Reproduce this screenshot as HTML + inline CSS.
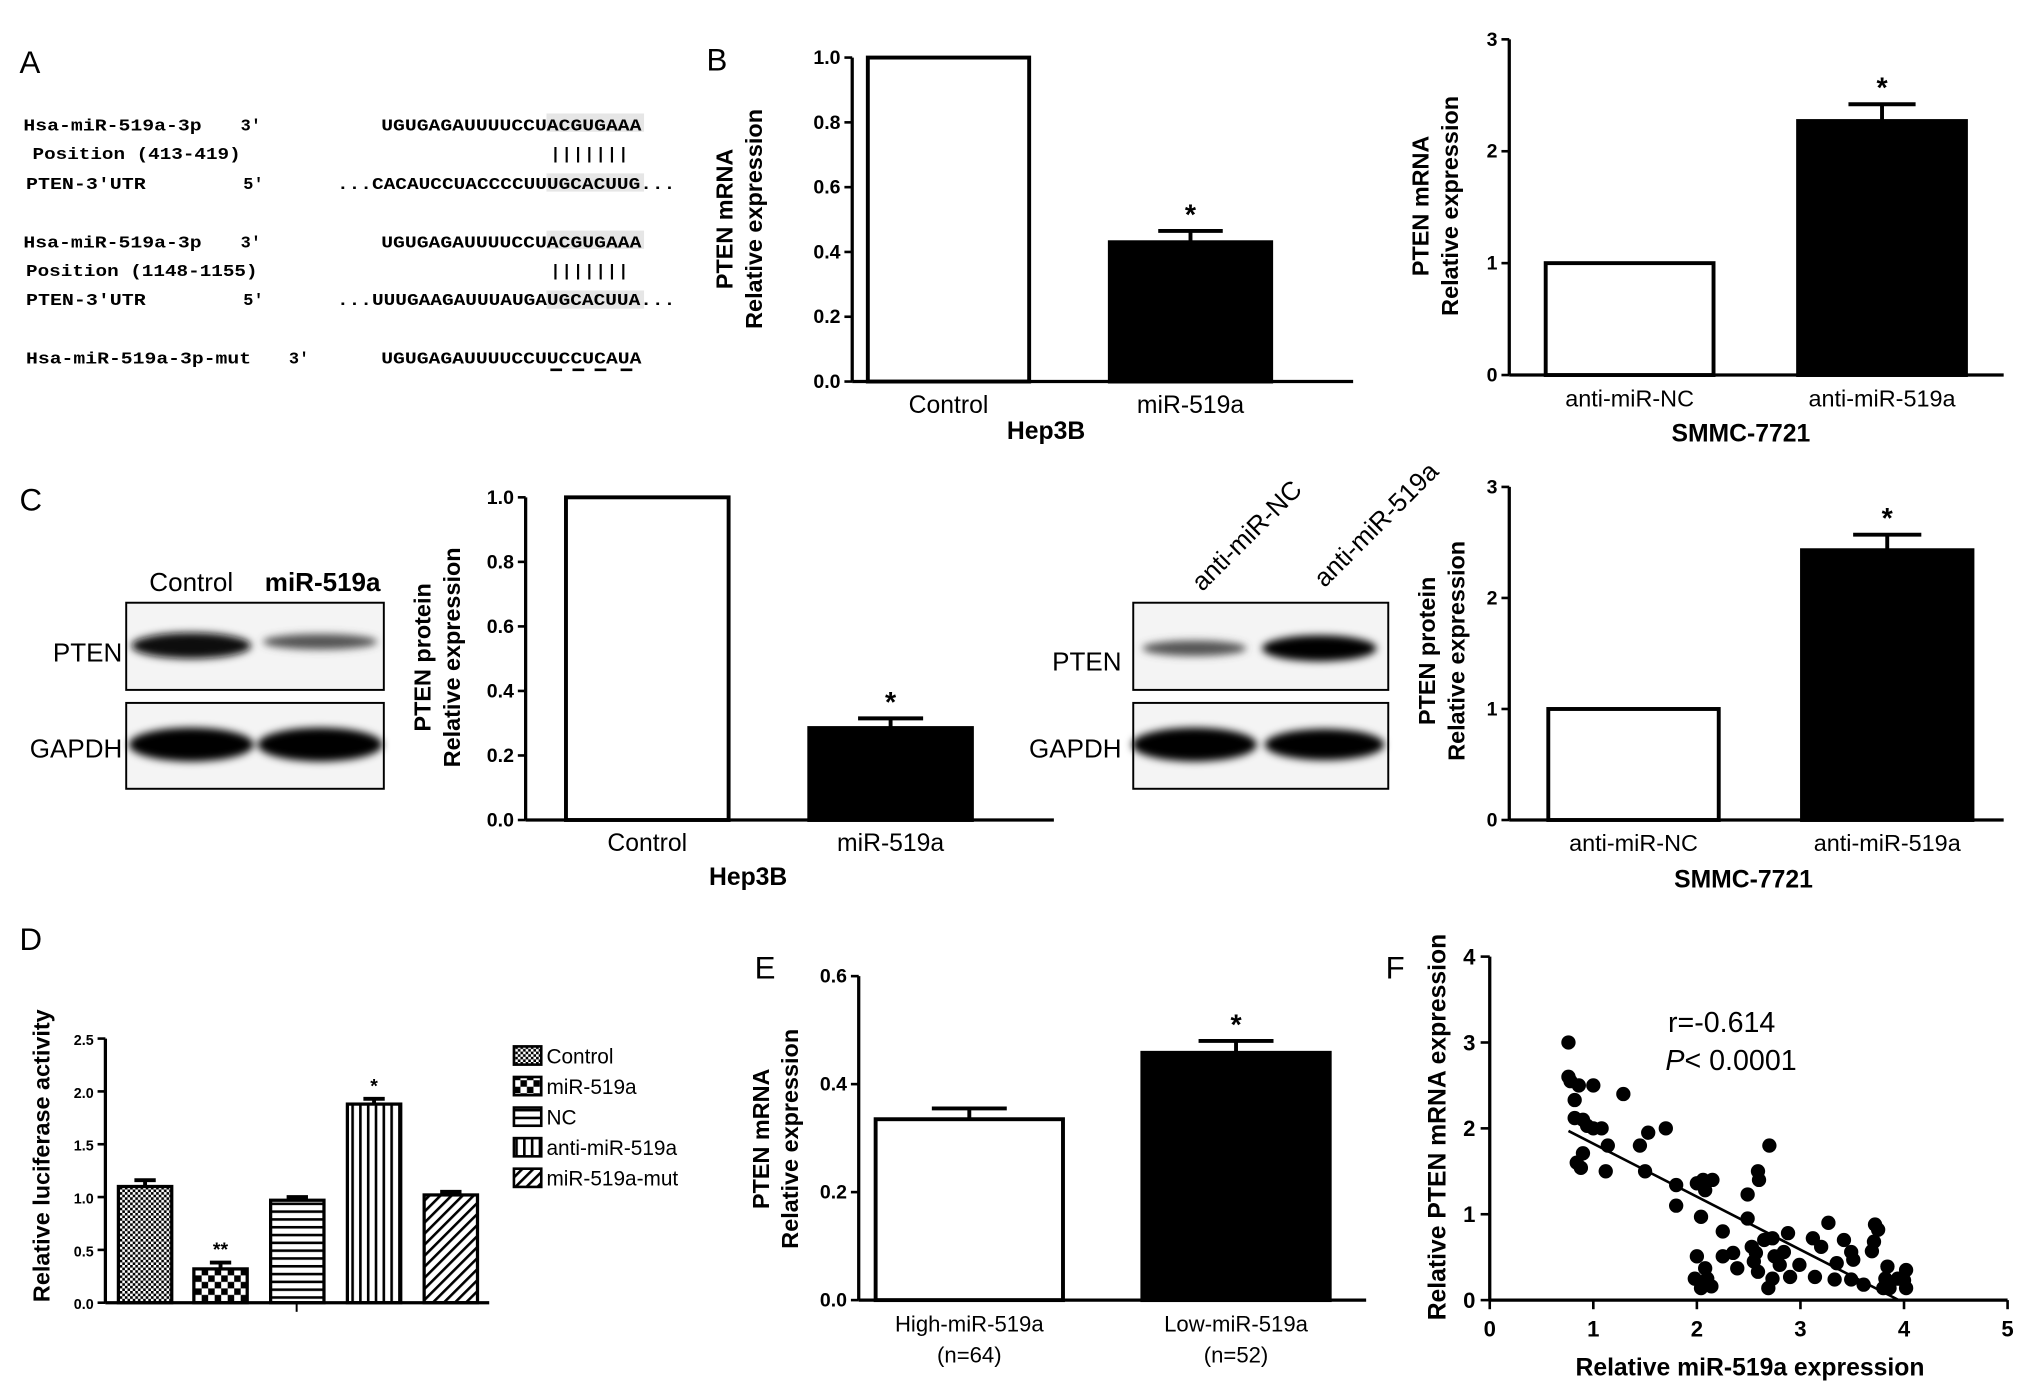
<!DOCTYPE html>
<html><head><meta charset="utf-8">
<style>
html,body{margin:0;padding:0;background:#fff;}
svg{display:block;font-family:"Liberation Sans",Arial,sans-serif;}
.mono{font-family:"Liberation Mono",monospace;font-weight:bold;font-size:13px;}
</style></head>
<body>
<svg id="fig" width="2031" height="1385" viewBox="0 0 1561 1064" xmlns="http://www.w3.org/2000/svg">
<defs>
<filter id="blur"><feGaussianBlur stdDeviation="3"/></filter>
<pattern id="pCtrl" width="4" height="4" patternUnits="userSpaceOnUse"><rect width="4" height="4" fill="#fff"/><rect width="2" height="2" fill="#000"/><rect x="2" y="2" width="2" height="2" fill="#000"/></pattern>
<pattern id="pMir" width="10" height="10" patternUnits="userSpaceOnUse"><rect width="10" height="10" fill="#fff"/><rect width="5" height="5" fill="#000"/><rect x="5" y="5" width="5" height="5" fill="#000"/></pattern>
<pattern id="pNC" width="6" height="6" patternUnits="userSpaceOnUse"><rect width="6" height="6" fill="#fff"/><rect width="6" height="2" fill="#000"/></pattern>
<pattern id="pAnti" width="6" height="6" patternUnits="userSpaceOnUse"><rect width="6" height="6" fill="#fff"/><rect width="2" height="6" fill="#000"/></pattern>
<pattern id="pMut" width="6" height="6" patternUnits="userSpaceOnUse" patternTransform="rotate(45)"><rect width="6" height="6" fill="#fff"/><rect width="2" height="6" fill="#000"/></pattern>
</defs>

<text x="15" y="56" font-size="24">A</text>
<text x="543" y="54" font-size="24">B</text>
<text x="15" y="392" font-size="24">C</text>
<text x="15" y="730" font-size="24">D</text>
<text x="580" y="752" font-size="24">E</text>
<text x="1065" y="752" font-size="24">F</text>

<g class="mono">
<rect x="420" y="87" width="75" height="14" fill="#e6e6e6"/>
<rect x="420" y="133" width="75" height="14" fill="#e6e6e6"/>
<rect x="420" y="177" width="75" height="14" fill="#e6e6e6"/>
<rect x="420" y="223" width="75" height="14" fill="#e6e6e6"/>
<text x="18" y="100" textLength="137" lengthAdjust="spacingAndGlyphs">Hsa-miR-519a-3p</text><text x="185" y="100">3'</text>
<text x="25" y="122" textLength="160" lengthAdjust="spacingAndGlyphs">Position (413-419)</text>
<text x="20" y="145" textLength="92" lengthAdjust="spacingAndGlyphs">PTEN-3'UTR</text><text x="187" y="145">5'</text>
<text x="293" y="100" textLength="200" lengthAdjust="spacingAndGlyphs">UGUGAGAUUUUCCUACGUGAAA</text>
<text x="423" y="122" textLength="60" lengthAdjust="spacing">|||||||</text>
<text x="259" y="145" textLength="260" lengthAdjust="spacingAndGlyphs">...CACAUCCUACCCCUUUGCACUUG...</text>
<text x="18" y="190" textLength="137" lengthAdjust="spacingAndGlyphs">Hsa-miR-519a-3p</text><text x="185" y="190">3'</text>
<text x="20" y="212" textLength="178" lengthAdjust="spacingAndGlyphs">Position (1148-1155)</text>
<text x="20" y="234" textLength="92" lengthAdjust="spacingAndGlyphs">PTEN-3'UTR</text><text x="187" y="234">5'</text>
<text x="293" y="190" textLength="200" lengthAdjust="spacingAndGlyphs">UGUGAGAUUUUCCUACGUGAAA</text>
<text x="423" y="212" textLength="60" lengthAdjust="spacing">|||||||</text>
<text x="259" y="234" textLength="260" lengthAdjust="spacingAndGlyphs">...UUUGAAGAUUUAUGAUGCACUUA...</text>
<text x="20" y="279" textLength="173" lengthAdjust="spacingAndGlyphs">Hsa-miR-519a-3p-mut</text><text x="222" y="279">3'</text>
<text x="293" y="279" textLength="200" lengthAdjust="spacingAndGlyphs">UGUGAGAUUUUCCUUCCUCAUA</text>
<path d="M423 284h9M440 284h9M457 284h9M477 284h9" stroke="#000" stroke-width="2"/>
</g>

<g>
<text x="147" y="454" font-size="20" text-anchor="middle">Control</text>
<text x="248" y="454" font-size="20" font-weight="bold" text-anchor="middle">miR-519a</text>
<text x="94" y="508" font-size="20" text-anchor="end">PTEN</text>
<text x="94" y="582" font-size="20" text-anchor="end">GAPDH</text>
<rect x="97" y="463" width="198" height="67" fill="#f4f4f4" stroke="#000" stroke-width="1.5"/>
<rect x="97" y="540" width="198" height="66" fill="#f4f4f4" stroke="#000" stroke-width="1.5"/>
<g filter="url(#blur)">
<ellipse cx="147" cy="496" rx="46" ry="10" fill="#111"/>
<ellipse cx="246" cy="493" rx="44" ry="6" fill="#555"/>
<ellipse cx="147" cy="572" rx="48" ry="13" fill="#000"/>
<ellipse cx="246" cy="572" rx="48" ry="13" fill="#000"/>
</g>
</g>
<g>
<text x="924" y="455" font-size="20" transform="rotate(-45 924 455)">anti-miR-NC</text>
<text x="1018" y="452" font-size="20" transform="rotate(-45 1018 452)">anti-miR-519a</text>
<text x="862" y="515" font-size="20" text-anchor="end">PTEN</text>
<text x="862" y="582" font-size="20" text-anchor="end">GAPDH</text>
<rect x="871" y="463" width="196" height="67" fill="#f4f4f4" stroke="#000" stroke-width="1.5"/>
<rect x="871" y="540" width="196" height="66" fill="#f4f4f4" stroke="#000" stroke-width="1.5"/>
<g filter="url(#blur)">
<ellipse cx="918" cy="498" rx="40" ry="6" fill="#555"/>
<ellipse cx="1014" cy="498" rx="44" ry="10" fill="#000"/>
<ellipse cx="918" cy="572" rx="48" ry="13" fill="#000"/>
<ellipse cx="1018" cy="572" rx="46" ry="12" fill="#000"/>
</g>
</g>

<g id="charts"></g>
</svg>
<script>
const bLeftCats = ["Control","miR-519a"];
const bLeftVals = [1.0, 0.43];
const bLeftErr = [0, 0.035];
const bLeftTicks = ["0.0","0.2","0.4","0.6","0.8","1.0"];
const bRightCats = ["anti-miR-NC","anti-miR-519a"];
const bRightVals = [1.0, 2.27];
const bRightErr = [0, 0.15];
const bRightTicks = ["0","1","2","3"];
const cLeftCats = ["Control","miR-519a"];
const cLeftVals = [1.0, 0.285];
const cLeftErr = [0, 0.03];
const cRightCats = ["anti-miR-NC","anti-miR-519a"];
const cRightVals = [1.0, 2.43];
const cRightErr = [0, 0.14];
const dCats = ["Control","miR-519a","NC","anti-miR-519a","miR-519a-mut"];
const dVals = [1.1, 0.32, 0.97, 1.88, 1.02];
const dErr = [0.06, 0.06, 0.03, 0.05, 0.03];
const dTicks = ["0.0","0.5","1.0","1.5","2.0","2.5"];
const dSig = ["","**","","*",""];
const eCats = ["High-miR-519a","Low-miR-519a"];
const eN = ["(n=64)","(n=52)"];
const eVals = [0.335, 0.458];
const eErr = [0.02, 0.022];
const eTicks = ["0.0","0.2","0.4","0.6"];
const fX = [0.76,0.76,0.78,0.86,1.0,1.29,0.82,0.82,0.9,0.94,1.0,1.08,1.53,1.7,1.45,1.14,2.7,0.9,0.84,0.88,1.12,1.5,1.8,1.8,2.0,2.06,2.15,2.08,2.59,2.6,2.49,2.49,2.04,2.25,3.27,2.88,3.12,3.2,3.42,3.49,3.51,3.72,3.75,3.71,3.69,2.0,2.25,2.35,2.39,2.53,2.57,2.55,2.59,2.65,2.73,2.75,2.84,2.8,2.99,2.9,2.73,2.69,3.14,3.35,3.33,3.49,3.61,1.98,2.08,2.1,2.14,2.04,3.84,3.82,3.86,3.94,4.02,4.0,4.02,3.8];
const fY = [3.0,2.6,2.55,2.5,2.5,2.4,2.33,2.12,2.1,2.03,2.0,2.0,1.95,2.0,1.8,1.8,1.8,1.71,1.6,1.54,1.5,1.5,1.34,1.1,1.36,1.4,1.4,1.28,1.5,1.4,1.23,0.95,0.97,0.8,0.9,0.78,0.72,0.62,0.7,0.56,0.47,0.88,0.82,0.68,0.57,0.51,0.51,0.55,0.37,0.62,0.55,0.45,0.33,0.7,0.72,0.51,0.56,0.41,0.41,0.27,0.25,0.14,0.27,0.43,0.24,0.24,0.18,0.25,0.37,0.25,0.16,0.14,0.39,0.25,0.14,0.25,0.35,0.23,0.14,0.14];
const fFit = [[0.76,1.97],[3.95,0]];
const fXTicks = ["0","1","2","3","4","5"];
const fYTicks = ["0","1","2","3","4"];

const NS="http://www.w3.org/2000/svg";
const root=document.getElementById('charts');
function mk(tag,attrs,parent,txt){const e=document.createElementNS(NS,tag);for(const k in attrs)e.setAttribute(k,attrs[k]);if(txt!==undefined)e.textContent=txt;(parent||root).appendChild(e);return e;}

function barChart(o){
  const g=mk('g',{});
  
  
  const ymax=o.ymax;
  const Y=v=>o.yb-(v/ymax)*(o.yb-o.yt);
  o.vals.forEach((v,i)=>{
    const x=o.bx[i];
    const r=mk('rect',{x:x,y:Y(v),width:o.bw,height:o.yb-Y(v),fill:o.fills[i],stroke:'#000','stroke-width':o.sw||3},g);
    
    
    const cx=x+o.bw/2, ye=Y(v+o.err[i]);
    if(o.err[i]>0){
      mk('line',{x1:cx,x2:cx,y1:Y(v),y2:ye,stroke:'#000','stroke-width':3},g);
      mk('line',{x1:cx-o.bw*0.2,x2:cx+o.bw*0.2,y1:ye,y2:ye,stroke:'#000','stroke-width':3},g);
    }
    if(o.sig && o.sig[i]) mk('text',{x:cx,y:ye-5,'font-size':o.sigSize||22,'font-weight':'bold','text-anchor':'middle'},g,o.sig[i]);
    if(o.xlab) mk('text',{x:cx,y:o.yb+24,'font-size':o.fs||19,'text-anchor':'middle'},g,o.cats[i]);
  });
  mk('line',{x1:o.ax,x2:o.ax,y1:o.yt,y2:o.yb,stroke:'#000','stroke-width':2.5},g);
  mk('line',{x1:o.ax,x2:o.xe,y1:o.yb,y2:o.yb,stroke:'#000','stroke-width':2.5},g);
  o.ticks.forEach((t,i)=>{
    const v=i*ymax/(o.ticks.length-1), y=Y(v);
    mk('line',{x1:o.ax-6,x2:o.ax,y1:y,y2:y,stroke:'#000','stroke-width':2},g);
    mk('text',{x:o.ax-9,y:y+5,'font-size':o.tfs||15,'font-weight':'bold','text-anchor':'end'},g,t);
  });
  return g;
}
function ytitle(lines,x,y,fs,name){
  const t=mk('text',{transform:`translate(${x},${y}) rotate(-90)`,'font-size':fs,'font-weight':'bold','text-anchor':'middle'});
  
  
  lines.forEach((l,i)=>mk('tspan',{x:0,dy:i?fs*1.25:0},t,l));
}

barChart({name:'chart-b-hep3b',cats:bLeftCats,vals:bLeftVals,err:bLeftErr,ticks:bLeftTicks,ymax:1.0,yt:44,yb:293,ax:655,xe:1040,bx:[667,853],bw:124,fills:['#fff','#000'],sig:['','*'],xlab:true});
mk('text',{x:804,y:337,'font-size':19,'font-weight':'bold','text-anchor':'middle'},null,'Hep3B');
ytitle(['PTEN mRNA','Relative expression'],563,168,18,'y-axis-title-b-hep3b');
barChart({name:'chart-b-smmc7721',cats:bRightCats,vals:bRightVals,err:bRightErr,ticks:bRightTicks,ymax:3,yt:30,yb:288,ax:1160,xe:1540,bx:[1188,1382],bw:129,fills:['#fff','#000'],sig:['','*'],xlab:true,fs:18});
mk('text',{x:1338,y:339,'font-size':19,'font-weight':'bold','text-anchor':'middle'},null,'SMMC-7721');
ytitle(['PTEN mRNA','Relative expression'],1098,158,18,'y-axis-title-b-smmc7721');
barChart({name:'chart-c-hep3b',cats:cLeftCats,vals:cLeftVals,err:cLeftErr,ticks:bLeftTicks,ymax:1.0,yt:382,yb:630,ax:404,xe:810,bx:[435,622],bw:125,fills:['#fff','#000'],sig:['','*'],xlab:true});
mk('text',{x:575,y:680,'font-size':19,'font-weight':'bold','text-anchor':'middle'},null,'Hep3B');
ytitle(['PTEN protein','Relative expression'],331,505,18,'y-axis-title-c-hep3b');
barChart({name:'chart-c-smmc7721',cats:cRightCats,vals:cRightVals,err:cRightErr,ticks:bRightTicks,ymax:3,yt:374,yb:630,ax:1160,xe:1540,bx:[1190,1385],bw:131,fills:['#fff','#000'],sig:['','*'],xlab:true,fs:18});
mk('text',{x:1340,y:682,'font-size':19,'font-weight':'bold','text-anchor':'middle'},null,'SMMC-7721');
ytitle(['PTEN protein','Relative expression'],1103,500,18,'y-axis-title-c-smmc7721');

const dFills=['url(#pCtrl)','url(#pMir)','url(#pNC)','url(#pAnti)','url(#pMut)'];
barChart({name:'chart-d-luciferase',cats:dCats,vals:dVals,err:dErr,ticks:dTicks,ymax:2.5,yt:798,yb:1001,ax:81,xe:376,bx:[91,149,208,267,326],bw:41,fills:dFills,sig:dSig,sigSize:15,tfs:11,sw:2.5});
mk('line',{x1:228,x2:228,y1:1001,y2:1008,stroke:'#000','stroke-width':1.5});
ytitle(['Relative luciferase activity'],38,888,18,'y-axis-title-d');
dCats.forEach((c,i)=>{
  const y=804+i*23.5;
  const r=mk('rect',{x:395,y:y,width:21,height:14,fill:dFills[i],stroke:'#000','stroke-width':2});
  
  
  const t=mk('text',{x:420,y:y+13,'font-size':16},null,c);
  
  
});

barChart({name:'chart-e-pten-mrna',cats:eCats,vals:eVals,err:eErr,ticks:eTicks,ymax:0.6,yt:750,yb:999,ax:660,xe:1050,bx:[673,878],bw:144,fills:['#fff','#000'],sig:['','*'],xlab:true,fs:17});
eN.forEach((n,i)=>mk('text',{x:[745,950][i],y:1047,'font-size':17,'text-anchor':'middle'},null,n));
ytitle(['PTEN mRNA','Relative expression'],591,875,18,'y-axis-title-e');

(function(){
  const g=mk('g',{});
  
  
  const x0=1145,x1=1543,y0=999,y1=735;
  const X=v=>x0+v/5*(x1-x0), Y=v=>y0-v/4*(y0-y1);
  mk('line',{x1:x0,x2:x0,y1:y1,y2:y0,stroke:'#000','stroke-width':2.5},g);
  mk('line',{x1:x0,x2:x1,y1:y0,y2:y0,stroke:'#000','stroke-width':2.5},g);
  fXTicks.forEach((t,i)=>{mk('line',{x1:X(i),x2:X(i),y1:y0,y2:y0+7,stroke:'#000','stroke-width':2},g);mk('text',{x:X(i),y:y0+28,'font-size':17,'font-weight':'bold','text-anchor':'middle'},g,t);});
  fYTicks.forEach((t,i)=>{mk('line',{x1:x0-7,x2:x0,y1:Y(i),y2:Y(i),stroke:'#000','stroke-width':2},g);mk('text',{x:x0-11,y:Y(i)+6,'font-size':17,'font-weight':'bold','text-anchor':'end'},g,t);});
  fX.forEach((v,i)=>{const c=mk('circle',{cx:X(v),cy:Y(fY[i]),r:5.5,fill:'#000'},g);});
  mk('line',{x1:X(fFit[0][0]),y1:Y(fFit[0][1]),x2:X(fFit[1][0]),y2:Y(fFit[1][1]),stroke:'#000','stroke-width':2},g);
  mk('text',{x:1282,y:793,'font-size':22},g,'r=-0.614');
  const p=mk('text',{x:1280,y:822,'font-size':22},g);
  mk('tspan',{'font-style':'italic'},p,'P');
  mk('tspan',{},p,'< 0.0001');
  mk('text',{x:1345,y:1057,'font-size':19,'font-weight':'bold','text-anchor':'middle'},g,'Relative miR-519a expression');
})();
ytitle(['Relative PTEN  mRNA expression'],1111,866,19,'y-axis-title-f');
</script>
</body></html>
